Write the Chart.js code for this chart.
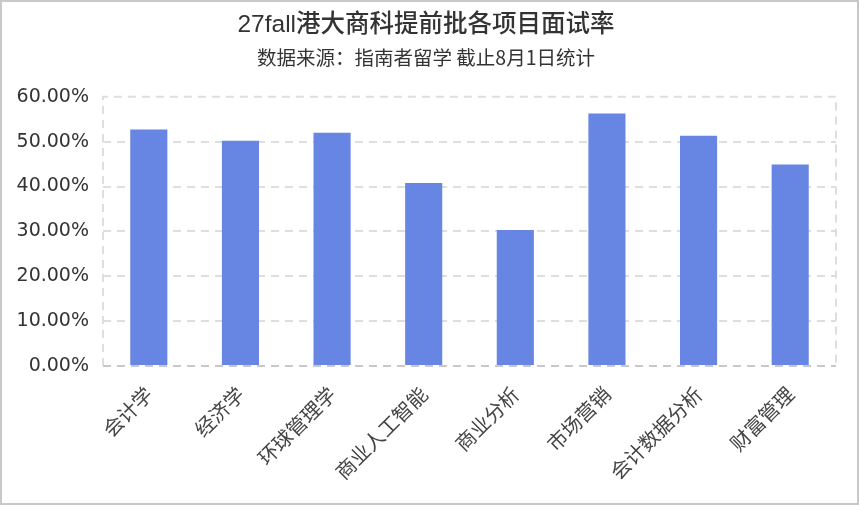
<!DOCTYPE html>
<html>
<head>
<meta charset="utf-8">
<script src="https://cdn.jsdelivr.net/npm/chart.js@4/dist/chart.umd.min.js"></script>
<style>
  html, body { margin: 0; padding: 0; background: #fff; }
  #wrap { width: 859px; height: 505px; box-sizing: border-box; border: 2px solid #c8c8c8; position: relative; }
  canvas { display: block; }
</style>
</head>
<body>
<div id="wrap"><canvas id="chart"></canvas></div>
<script>
const programs = ['会计学', '经济学', '环球管理学', '商业人工智能', '商业分析', '市场营销', '会计数据分析', '财富管理']
const interviewRate = [52.7, 50.2, 52.0, 40.8, 30.3, 56.3, 51.3, 44.9]
const yTicks = [0, 10, 20, 30, 40, 50, 60]

const latinCjk = '"Liberation Sans", "Noto Sans CJK SC", sans-serif'
const cjk = '"Noto Sans CJK SC", sans-serif'

// dashed frame round the plot area
const frame = {
  id: 'frame',
  beforeDatasetsDraw(chart) {
    const { ctx, chartArea: a } = chart
    ctx.save()
    ctx.lineWidth = 2
    ctx.setLineDash([8, 6])
    ctx.strokeStyle = '#dedede'
    ctx.beginPath()
    ctx.moveTo(a.left, a.bottom)
    ctx.lineTo(a.left, a.top)
    ctx.lineTo(a.right, a.top)
    ctx.lineTo(a.right, a.bottom)
    ctx.stroke()
    ctx.strokeStyle = '#c8c8c8'
    ctx.beginPath()
    ctx.moveTo(a.left, a.bottom)
    ctx.lineTo(a.right, a.bottom)
    ctx.stroke()
    ctx.restore()
  },
}

const ctx = document.getElementById('chart').getContext('2d')
new Chart(ctx, {
  type: 'bar',
  data: {
    labels: programs,
    datasets: [
      {
        data: interviewRate,
        backgroundColor: '#6785e2',
        borderWidth: 0,
        barPercentage: 0.405,
        categoryPercentage: 1,
      },
    ],
  },
  options: {
    responsive: true,
    maintainAspectRatio: false,
    animation: false,
    layout: { padding: { top: 9, right: 21, bottom: 10, left: 14 } },
    plugins: {
      legend: { display: false },
      tooltip: { enabled: false },
      title: {
        display: true,
        text: '27fall港大商科提前批各项目面试率',
        color: '#333',
        font: { family: latinCjk, size: 24.5, weight: '500' },
        padding: { top: 0, bottom: 5 },
      },
      subtitle: {
        display: true,
        text: '数据来源：指南者留学 截止8月1日统计',
        color: '#333',
        font: { family: cjk, size: 19.5, weight: '400' },
        padding: { top: 0, bottom: 28 },
      },
    },
    scales: {
      x: {
        grid: { display: false },
        border: { display: false },
        afterFit: (s) => {
          s.height = 127
        },
        ticks: {
          color: '#444',
          font: { family: cjk, size: 20 },
          maxRotation: 45,
          minRotation: 45,
          padding: 8,
        },
      },
      y: {
        min: 0,
        max: 60,
        afterBuildTicks: (axis) => {
          axis.ticks = yTicks.map((v) => ({ value: v }))
        },
        afterFit: (s) => {
          s.width = 87
        },
        grid: {
          color: (c) => (c.tick.value === 0 || c.tick.value === 60 ? 'rgba(0,0,0,0)' : '#dedede'),
          lineWidth: 2,
          drawTicks: false,
        },
        border: { display: false, dash: [8, 6] },
        ticks: {
          color: '#333',
          font: { family: '"DejaVu Sans", sans-serif', size: 19 },
          padding: 14,
          callback: (v) => v.toFixed(2) + '%',
        },
      },
    },
  },
  plugins: [frame],
})
</script>
</body>
</html>
